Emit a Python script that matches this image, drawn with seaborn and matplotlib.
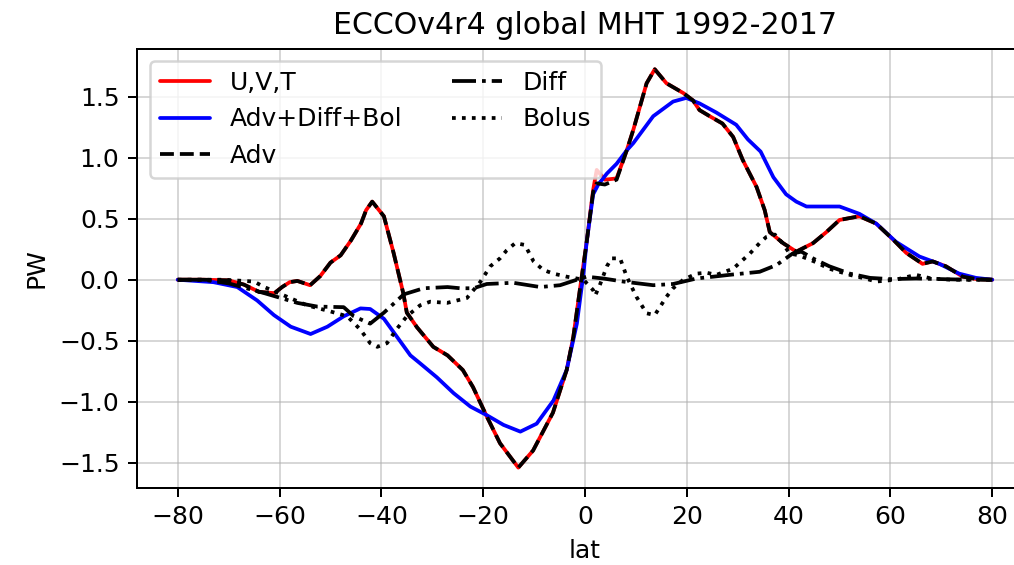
import matplotlib
matplotlib.use("Agg")
import matplotlib.pyplot as plt
import seaborn as sns

# values (PW vs latitude)
lat_uvt = [-80, -75, -70, -67, -64, -61, -59.5, -58, -56.5, -54, -52, -50, -48, -46, -44, -43,
           -41.8, -39.5, -37.6, -35.7, -35, -33, -29.8, -27, -24, -22, -19.3, -16.7, -13.1,
           -10.2, -6.3, -3.6, -2.3, -1.0, 0.3, 1.6, 2.3, 3.9, 6.2, 8.2, 9.5, 12.1, 13.7, 16.0,
           19.3, 21.2, 22.5, 24.5, 27, 29.1, 31, 33.7, 35.3, 36.3, 38.9, 41.5, 44.8, 47.4, 50,
           53.9, 57.2, 60.5, 63.1, 66.3, 68.3, 70.9, 74.2, 77, 80]
uvt = [0.0, 0.0, -0.005, -0.04, -0.10, -0.11, -0.06, -0.02, -0.01, -0.045, 0.03, 0.14, 0.20,
       0.32, 0.46, 0.57, 0.64, 0.52, 0.22, -0.11, -0.27, -0.39, -0.55, -0.62, -0.74, -0.88,
       -1.12, -1.34, -1.54, -1.40, -1.09, -0.74, -0.47, -0.08, 0.30, 0.735, 0.90, 0.82, 0.83,
       1.06, 1.23, 1.61, 1.725, 1.61, 1.53, 1.47, 1.39, 1.34, 1.28, 1.17, 0.98, 0.76, 0.57,
       0.39, 0.30, 0.23, 0.30, 0.39, 0.49, 0.52, 0.46, 0.33, 0.22, 0.13, 0.15, 0.11, 0.025,
       0.005, 0.0]

lat_adv = lat_uvt
adv = [0.0, 0.0, -0.005, -0.04, -0.10, -0.11, -0.06, -0.02, -0.01, -0.045, 0.03, 0.14, 0.20,
       0.32, 0.46, 0.57, 0.64, 0.52, 0.22, -0.11, -0.27, -0.39, -0.55, -0.62, -0.74, -0.88,
       -1.12, -1.34, -1.54, -1.40, -1.09, -0.74, -0.47, -0.08, 0.30, 0.72, 0.79, 0.78, 0.82,
       1.06, 1.23, 1.61, 1.725, 1.61, 1.53, 1.47, 1.39, 1.34, 1.28, 1.17, 0.98, 0.76, 0.57,
       0.39, 0.30, 0.23, 0.30, 0.39, 0.49, 0.52, 0.46, 0.33, 0.22, 0.13, 0.15, 0.11, 0.025,
       0.005, 0.0]

lat_sum = [-80, -73, -68.3, -64.4, -61.1, -57.8, -53.9, -50.6, -47.4, -44.1, -42.2, -39.5,
           -36.9, -34.3, -32.4, -29.1, -25.8, -22.5, -19.3, -16.0, -12.7, -9.5, -6.2, -3.6,
           -1.6, -0.3, 0.3, 1.6, 2.6, 4.3, 6.2, 8.2, 9.5, 13.4, 17.3, 19.9, 22.5, 25.8, 29.7,
           32, 34.5, 37, 39.5, 41.5, 43.5, 50, 53.9, 57.2, 61.1, 65.7, 69.6, 73.5, 76.8, 80]
adv_diff_bol = [0.0, -0.02, -0.06, -0.17, -0.29, -0.385, -0.445, -0.385, -0.30, -0.235, -0.24,
                -0.32, -0.47, -0.62, -0.685, -0.80, -0.93, -1.04, -1.11, -1.19, -1.245, -1.18,
                -0.99, -0.74, -0.36, 0.05, 0.30, 0.70, 0.78, 0.87, 0.95, 1.06, 1.12, 1.34,
                1.46, 1.49, 1.445, 1.37, 1.27, 1.15, 1.05, 0.84, 0.70, 0.64, 0.60, 0.60, 0.54,
                0.46, 0.31, 0.19, 0.13, 0.05, 0.015, 0.0]

lat_diff = [-80, -75, -70, -63, -56.5, -52.6, -47.4, -45.4, -42.2, -39.5, -35.6, -31.7, -27,
            -24.5, -21.9, -19.3, -14.1, -8.8, -4.9, -1.6, 0.3, 3.6, 7.5, 13.4, 17.3, 21.9, 25.2,
            28.4, 34.3, 37.6, 40.8, 42.5, 45, 48, 52, 56, 60, 65, 70, 75, 80]
diff = [0.0, 0.0, -0.03, -0.11, -0.19, -0.22, -0.225, -0.30, -0.36, -0.27, -0.12, -0.07,
        -0.06, -0.07, -0.07, -0.035, -0.025, -0.06, -0.045, 0.0, 0.025, 0.01, -0.015, -0.045,
        -0.035, 0.01, 0.025, 0.04, 0.065, 0.12, 0.215, 0.23, 0.17, 0.11, 0.05, 0.015, 0.005,
        0.01, 0.005, 0.0, 0.0]

lat_bol = [-80, -71, -65, -63, -58.5, -54.6, -50, -46.7, -44.1, -42.2, -40.8, -38.9, -36.9,
           -35, -32.4, -30.4, -27.1, -23.2, -20.6, -18.6, -16.7, -15.4, -13.7, -11.8, -10.1,
           -8.2, -6.2, -3.6, -0.3, 1.6, 2.0, 2.9, 4.3, 5.2, 6.9, 8.2, 10.1, 12.1, 13.7, 16.0,
           17.3, 19.3, 21.9, 23.9, 25.8, 29.1, 32.4, 34.3, 35.6, 37.3, 38.8, 40.2, 42, 45, 48,
           52, 55, 57.2, 61, 65, 68, 72, 80]
bolus = [0.0, 0.0, -0.015, -0.06, -0.14, -0.21, -0.26, -0.30, -0.41, -0.52, -0.55, -0.52,
         -0.40, -0.30, -0.21, -0.18, -0.19, -0.15, -0.02, 0.11, 0.175, 0.24, 0.30, 0.285, 0.15,
         0.08, 0.05, 0.025, 0.0, -0.085, -0.13, -0.045, 0.11, 0.175, 0.175, 0.025, -0.14,
         -0.275, -0.29, -0.14, -0.07, 0.0, 0.05, 0.057, 0.04, 0.09, 0.215, 0.30, 0.35, 0.37,
         0.30, 0.215, 0.20, 0.15, 0.09, 0.04, 0.01, -0.015, 0.0, 0.04, 0.01, 0.0, 0.0]

sns.set_style("ticks", {"axes.edgecolor": "black", "xtick.color": "black",
                        "ytick.color": "black", "text.color": "black",
                        "axes.labelcolor": "black"})
plt.rcParams["font.family"] = ["DejaVu Sans"]
plt.rcParams["font.size"] = 10

fig = plt.figure(figsize=(1014 / 180, 565 / 180), dpi=180)
# the reference is cropped on the right, so the axes run past the figure edge
ax = fig.add_axes([137 / 1014, 77 / 565, 896 / 1014, 439.5 / 565])

sns.lineplot(x=lat_uvt, y=uvt, ax=ax, color="red", lw=1.5, label="U,V,T")
sns.lineplot(x=lat_sum, y=adv_diff_bol, ax=ax, color="blue", lw=1.5, label="Adv+Diff+Bol")
sns.lineplot(x=lat_adv, y=adv, ax=ax, color="black", lw=1.5, linestyle="--", label="Adv")
sns.lineplot(x=lat_diff, y=diff, ax=ax, color="black", lw=1.5, linestyle="-.", label="Diff")
sns.lineplot(x=lat_bol, y=bolus, ax=ax, color="black", lw=1.5, linestyle=":", label="Bolus")

ax.set_xlim(-88, 88)
ax.set_ylim(-1.707, 1.895)
ax.set_xticks([-80, -60, -40, -20, 0, 20, 40, 60, 80])
ax.set_yticks([-1.5, -1.0, -0.5, 0.0, 0.5, 1.0, 1.5])
ax.tick_params(labelsize=10, length=3.5, width=0.8)
ax.grid(True, color="#b0b0b0", lw=0.8, alpha=0.5)
for s in ax.spines.values():
    s.set_visible(True)
    s.set_linewidth(0.8)
    s.set_color("black")

ax.set_xlabel("lat", fontsize=10)
ax.set_ylabel("PW", fontsize=10)
ax.set_title("ECCOv4r4 global MHT 1992-2017", fontsize=12)
ax.legend(loc="upper left", ncol=2, fontsize=10, framealpha=0.8)

plt.savefig("out.png", dpi=180)
